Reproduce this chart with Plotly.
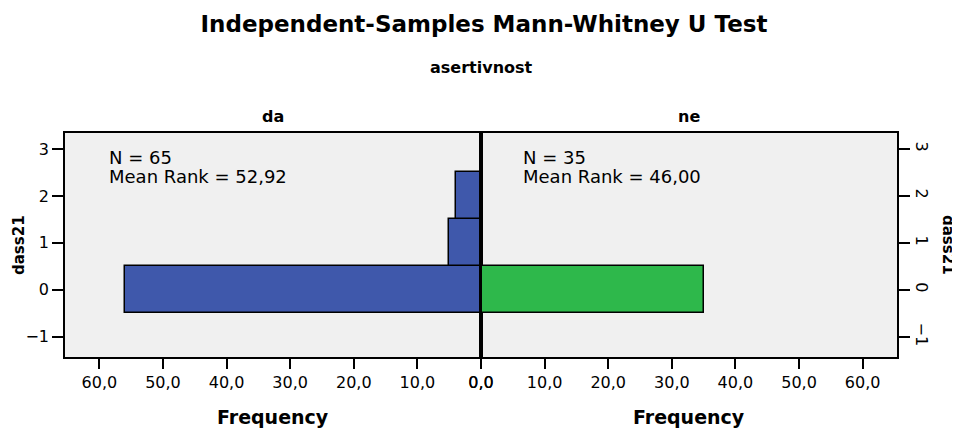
import plotly.graph_objects as go
from plotly.subplots import make_subplots

# dass21 values and frequencies per group of asertivnost
dass21_values = [0, 1, 2]
freq_da = [56, 5, 4]
freq_ne = [35, 0, 0]
groups = ["da", "ne"]
n_da, rank_da = 65, "52,92"
n_ne, rank_ne = 35, "46,00"

blue = "#3f58ab"
green = "#2eb84b"
font = "DejaVu Sans, Verdana, sans-serif"

fig = make_subplots(rows=1, cols=2, shared_yaxes=False, horizontal_spacing=0)

fig.add_trace(go.Bar(
    y=dass21_values, x=freq_da, orientation="h", width=1,
    marker=dict(color=blue, line=dict(color="black", width=1.5)),
    showlegend=False,
), row=1, col=1)
fig.add_trace(go.Bar(
    y=dass21_values, x=freq_ne, orientation="h", width=1,
    marker=dict(color=green, line=dict(color="black", width=1.5)),
    showlegend=False,
), row=1, col=2)

fig.update_xaxes(
    tickvals=[0, 10, 20, 30, 40, 50, 60], tickformat=".1f",
    ticks="outside", ticklen=10, tickwidth=1.5, tickcolor="black",
    showline=True, linecolor="black", linewidth=1.5, mirror=True,
    showgrid=False, zeroline=False, automargin=False,
    tickfont=dict(family=font, size=16, color="black"),
)
fig.update_xaxes(range=[65.4, 0], row=1, col=1)
fig.update_xaxes(range=[0, 65.4], row=1, col=2)

fig.update_yaxes(
    range=[-1.43, 3.34], tickvals=[-1, 0, 1, 2, 3],
    ticks="outside", ticklen=11, tickwidth=1.5, tickcolor="black",
    showline=True, linecolor="black", linewidth=1.5, mirror=True,
    showgrid=False, zeroline=False, automargin=False,
    tickfont=dict(family=font, size=16, color="black"),
)
fig.update_yaxes(side="right", tickangle=90, row=1, col=2)

# centre line at zero frequency
fig.add_shape(type="line", xref="x2", yref="paper", x0=0, x1=0, y0=0, y1=1,
              line=dict(color="black", width=2))

# group headers and axis titles
for xa, name in [("x domain", groups[0]), ("x2 domain", groups[1])]:
    fig.add_annotation(text=f"<b>{name}</b>", xref=xa, yref="paper", x=0.5, y=1.0,
                       yshift=17, yanchor="middle", showarrow=False,
                       font=dict(family=font, size=16, color="black"))
    fig.add_annotation(text="<b>Frequency</b>", xref=xa, yref="paper", x=0.5, y=0.0,
                       yshift=-60, yanchor="middle", showarrow=False,
                       font=dict(family=font, size=19, color="black"))

# summary text per group
for xa, xpos, n, rank in [("x", 58.8, n_da, rank_da), ("x2", 6.27, n_ne, rank_ne)]:
    fig.add_annotation(text=f"N = {n}", xref=xa, yref="paper", x=xpos, y=0.8906,
                       xanchor="left", yanchor="middle", showarrow=False,
                       font=dict(family=font, size=18, color="black"))
    fig.add_annotation(text=f"Mean Rank = {rank}", xref=xa, yref="paper", x=xpos, y=0.8036,
                       xanchor="left", yanchor="middle", showarrow=False,
                       font=dict(family=font, size=18, color="black"))

fig.add_annotation(text="<b>dass21</b>", xref="paper", yref="paper", x=0.0, y=0.5,
                   xanchor="center", xshift=-46, textangle=-90, showarrow=False,
                   font=dict(family=font, size=15, color="black"))
fig.add_annotation(text="<b>dass21</b>", xref="paper", yref="paper", x=1.0, y=0.5,
                   xanchor="center", xshift=51, textangle=90, showarrow=False,
                   font=dict(family=font, size=15, color="black"))

fig.add_annotation(text="<b>asertivnost</b>", xref="paper", yref="paper", x=0.5, y=1.0,
                   yshift=66, yanchor="middle", showarrow=False,
                   font=dict(family=font, size=16, color="black"))

# the page body adds an 8px margin, so the figure is sized and placed to compensate
fig.update_layout(
    title=dict(text="<b>Independent-Samples Mann-Whitney U Test</b>", x=0.5, xanchor="center",
               y=0.962, yanchor="middle", font=dict(family=font, size=23, color="black")),
    width=952, height=421,
    margin=dict(l=57, r=63, t=125, b=72),
    plot_bgcolor="#f0f0f0", paper_bgcolor="white",
    separators=",.",
    bargap=0,
)

fig.write_html("out.html")
